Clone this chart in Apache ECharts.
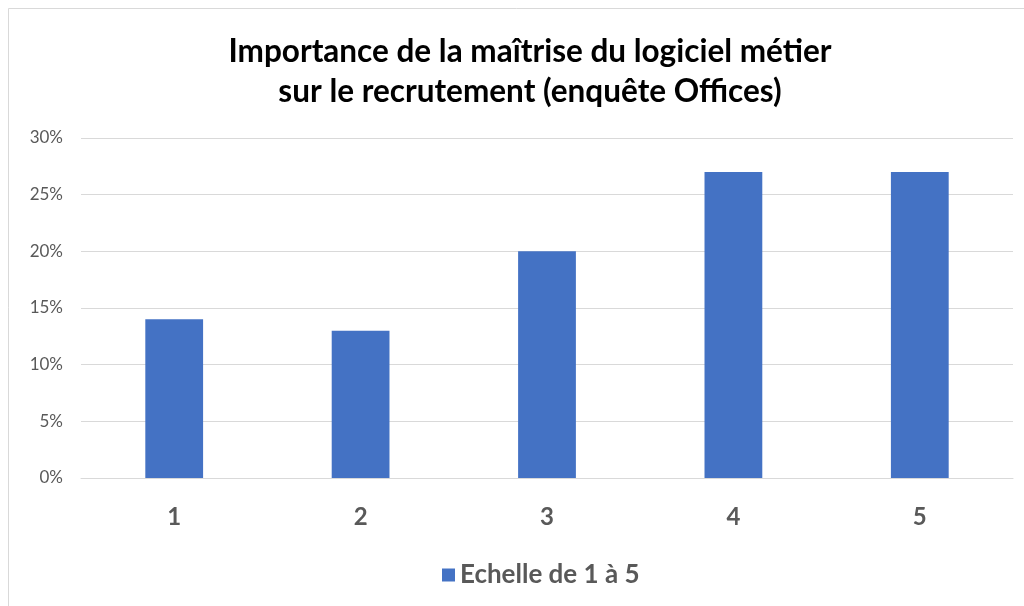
<!DOCTYPE html>
<html><head><meta charset="utf-8">
<script src="https://cdn.jsdelivr.net/npm/echarts@6/dist/echarts.min.js"></script>
<style>html,body{margin:0;padding:0;background:#fff}#c{width:1024px;height:606px}</style>
</head><body><div id="c"></div>
<script>
const titleLines = ["Importance de la maîtrise du logiciel métier", "sur le recrutement (enquête Offices)"];
const categories = ["1", "2", "3", "4", "5"];
const values = [14, 13, 20, 27, 27];
const seriesName = "Echelle de 1 à 5";
const yTicks = { min: 0, max: 30, interval: 5 };

const chart = echarts.init(document.getElementById('c'), null, { renderer: 'canvas' });
const FONT = 'Lato';
chart.setOption({
  backgroundColor: '#fff',
  animation: false,
  title: {
    text: titleLines.join('\n'),
    left: 525, top: 27, textAlign: 'center',
    textStyle: { fontFamily: FONT, fontWeight: 'bold', fontSize: 31.5, color: '#000', lineHeight: 40 }
  },
  graphic: [{
    type: 'rect', shape: { x: 8.5, y: 8.5, width: 1030, height: 620 },
    style: { fill: 'none', stroke: '#d9d9d9', lineWidth: 1 }, silent: true
  }],
  legend: {
    bottom: 13, left: 437, itemWidth: 13, itemHeight: 13, itemGap: 9,
    icon: 'rect',
    textStyle: { fontFamily: FONT, fontSize: 26, fontWeight: 'bold', color: '#595959' },
    data: [seriesName]
  },
  grid: { left: 81, right: 11, top: 138, bottom: 128, containLabel: false },
  xAxis: {
    type: 'category', data: categories,
    axisLine: { lineStyle: { color: '#d9d9d9' } }, axisTick: { show: false },
    axisLabel: { fontFamily: FONT, fontSize: 24, fontWeight: 'bold', color: '#595959', margin: 27 }
  },
  yAxis: {
    type: 'value', min: yTicks.min, max: yTicks.max, interval: yTicks.interval,
    axisLine: { show: false }, axisTick: { show: false },
    splitLine: { lineStyle: { color: '#d9d9d9', width: 1 } },
    axisLabel: { fontFamily: FONT, fontSize: 17, color: '#595959', margin: 18, formatter: v => v + '%' }
  },
  series: [{
    name: seriesName, type: 'bar', data: values, barWidth: '31%',
    itemStyle: { color: '#4472C4' }
  }]
});
</script></body></html>
